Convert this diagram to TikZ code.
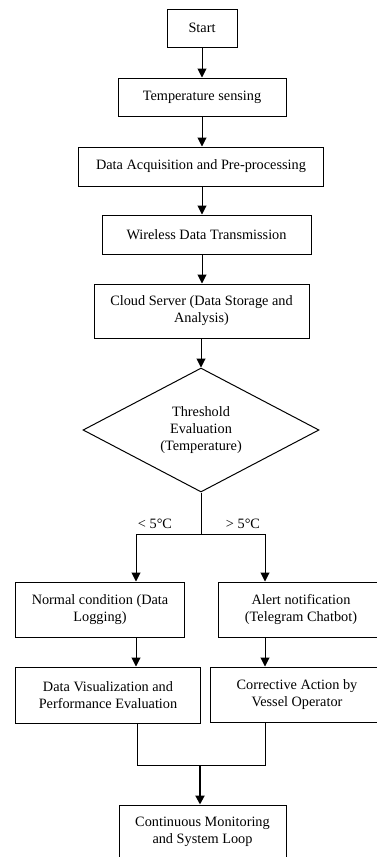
\documentclass[tikz,border=0pt]{standalone}
\usepackage{fontspec}
\setmainfont{Liberation Serif}
\usetikzlibrary{shapes.geometric, arrows.meta}

\begin{document}
\begin{tikzpicture}[x=0.7pt, y=-0.7pt,
  box/.style={draw, line width=0.7pt, align=center, inner sep=2pt},
  decide/.style={draw, diamond, line width=0.7pt, align=center, inner sep=0pt, aspect=1.9},
  link/.style={line width=0.7pt},
  arr/.style={line width=0.7pt, -{Triangle[width=6.3pt, length=6.3pt]}}]
  \useasboundingbox (0,0) rectangle (377,857);

  % Main column
  \node[box, minimum width=49pt, minimum height=26.6pt] (start) at (202, 28) {Start};
  \node[box, minimum width=117.6pt, minimum height=26.6pt] (sense) at (202, 97) {Temperature sensing};
  \node[box, minimum width=170.8pt, minimum height=27.3pt] (acq) at (201, 166.5) {Data Acquisition and Pre-processing};
  \node[box, minimum width=146.3pt, minimum height=27.3pt] (wifi) at (206.5, 234.5) {Wireless Data Transmission};
  \node[box, minimum width=150.5pt, minimum height=37.8pt] (cloud) at (201.5, 311) {Cloud Server (Data Storage and\\Analysis)};
  \node[decide, minimum width=165.2pt, minimum height=86.8pt] (thr) at (201, 430) {Threshold\\Evaluation\\(Temperature)};

  \draw[arr] (start) -- (start |- sense.north);
  \draw[arr] (sense) -- (sense |- acq.north);
  \draw[arr] (sense |- acq.south) -- (sense |- wifi.north);
  \draw[arr] (sense |- wifi.south) -- (sense |- cloud.north);
  \draw[arr] (thr |- cloud.south) -- (thr.north);

  % Branches
  \coordinate (jn) at (201, 534);
  \coordinate (jl) at (136, 534);
  \coordinate (jr) at (265, 534);
  \node (low) at (155, 524) {< 5°C};
  \node (high) at (243, 524) {> 5°C};

  \node[box, minimum width=117.6pt, minimum height=38.5pt] (normal) at (100, 609.5) {Normal condition (Data\\Logging)};
  \node[box, minimum width=116.2pt, minimum height=38.5pt] (alert) at (301, 609.5) {Alert notification\\(Telegram Chatbot)};
  \node[box, minimum width=128.8pt, minimum height=39.2pt] (viz) at (108, 695) {Data Visualization and\\Performance Evaluation};
  \node[box, minimum width=121.8pt, minimum height=38.5pt] (act) at (297, 694.5) {Corrective Action by\\Vessel Operator};

  \draw[link] (thr.south) -- (jn);
  \draw[arr] (jn) -- (jl) -- (jl |- normal.north);
  \draw[arr] (jn) -- (jr) -- (jr |- alert.north);
  \draw[arr] (jl |- normal.south) -- (jl |- viz.north);
  \draw[arr] (jr |- alert.south) -- (jr |- act.north);

  % Merge
  \coordinate (ml) at (137, 765);
  \coordinate (mr) at (265, 765);
  \coordinate (mm) at (200, 765);
  \node[box, minimum width=116.9pt, minimum height=37.8pt] (loop) at (202.5, 832) {Continuous Monitoring\\and System Loop};

  \draw[link] (ml |- viz.south) -- (ml) -- (mr) -- (mr |- act.south);
  \draw[arr, line width=1.4pt] (mm) -- (mm |- loop.north);
\end{tikzpicture}
\end{document}
